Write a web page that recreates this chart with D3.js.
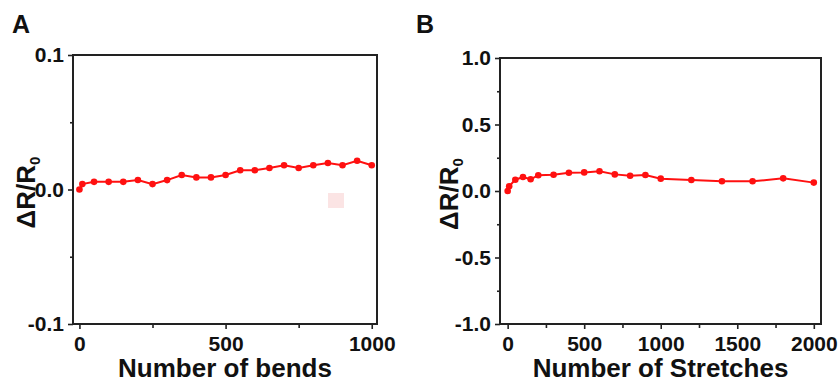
<!DOCTYPE html>
<html>
<head>
<meta charset="utf-8">
<script src="https://cdn.jsdelivr.net/npm/d3@7/dist/d3.min.js"></script>
<style>
  body { margin: 0; background: #fff; }
  svg { display: block; font-family: "Liberation Sans", Arial, sans-serif; font-weight: bold; }
</style>
</head>
<body>
<svg width="839" height="383"></svg>
<script>
// panel A : bending test
var bendsX = [0, 10, 50, 100, 150, 200, 250, 300, 350, 400, 450, 500, 550, 600, 650, 700, 750, 800, 850, 900, 950, 1000]
var bendsY = [0.0, 0.004, 0.0057, 0.0057, 0.0057, 0.0071, 0.004, 0.007, 0.0108, 0.009, 0.009, 0.0108, 0.0143, 0.0143, 0.016, 0.018, 0.016, 0.018, 0.0197, 0.018, 0.0214, 0.018]
var bendsXTicks = [0, 500, 1000]
var bendsXMinor = [250, 750]
var bendsYTicks = [-0.1, 0.0, 0.1]
var bendsYMinor = [-0.05, 0.05]

// panel B : stretching test
var stretchX = [0, 10, 50, 100, 150, 200, 300, 400, 500, 600, 700, 800, 900, 1000, 1200, 1400, 1600, 1800, 2000]
var stretchY = [0.0, 0.035, 0.085, 0.105, 0.088, 0.118, 0.122, 0.137, 0.14, 0.148, 0.125, 0.115, 0.12, 0.093, 0.083, 0.073, 0.073, 0.095, 0.063]
var stretchXTicks = [0, 500, 1000, 1500, 2000]
var stretchXMinor = [250, 750, 1250, 1750]
var stretchYTicks = [-1.0, -0.5, 0.0, 0.5, 1.0]
var stretchYMinor = [-0.75, -0.25, 0.25, 0.75]

var svg = d3.select('svg')

function drawPanel(p) {
    var g = svg.append('g')

    var x = d3.scaleLinear().domain(p.xDomain).range([p.left, p.right])
    var y = d3.scaleLinear().domain(p.yDomain).range([p.bottom, p.top])

    // minor ticks first
    g.append('g')
        .attr('transform', 'translate(0,' + p.bottom + ')')
        .call(d3.axisBottom(x).tickValues(p.xMinor).tickSize(4).tickFormat(''))
    g.append('g')
        .attr('transform', 'translate(' + p.left + ',0)')
        .call(d3.axisLeft(y).tickValues(p.yMinor).tickSize(3).tickFormat(''))

    g.append('g')
        .attr('transform', 'translate(0,' + p.bottom + ')')
        .call(d3.axisBottom(x).tickValues(p.xTicks).tickSize(5).tickPadding(7)
              .tickFormat(function(d){ return d }))
    g.append('g')
        .attr('transform', 'translate(' + p.left + ',0)')
        .call(d3.axisLeft(y).tickValues(p.yTicks).tickSize(5).tickPadding(4)
              .tickFormat(function(d){ return d.toFixed(1) }))

    g.selectAll('.domain').remove()
    g.selectAll('.tick line').attr('stroke', '#222').attr('stroke-width', 1.6)
    g.selectAll('.tick text')
        .attr('fill', '#111')
        .style('font-size', '21px')
        .style('font-family', '"Liberation Sans", Arial, sans-serif')
        .style('font-weight', 'bold')

    // frame
    g.append('rect')
        .attr('x', p.left).attr('y', p.top)
        .attr('width', p.right - p.left).attr('height', p.bottom - p.top)
        .attr('fill', 'none').attr('stroke', '#222').attr('stroke-width', 2)

    var pts = p.xs.map(function(d, i){ return [d, p.ys[i]] })
    var line = d3.line()
        .x(function(d){ return x(d[0]) })
        .y(function(d){ return y(d[1]) })

    g.append('path')
        .datum(pts)
        .attr('d', line)
        .attr('fill', 'none')
        .attr('stroke', '#ff1010')
        .attr('stroke-width', 2)

    g.selectAll('circle')
        .data(pts)
        .enter()
        .append('circle')
        .attr('cx', function(d){ return x(d[0]) })
        .attr('cy', function(d){ return y(d[1]) })
        .attr('r', 3.3)
        .attr('fill', '#ff1010')

    // axis titles
    g.append('text')
        .attr('x', (p.left + p.right) / 2)
        .attr('y', 377)
        .attr('text-anchor', 'middle')
        .style('font-size', '26px')
        .attr('fill', '#111')
        .text(p.xTitle)

    var yt = g.append('text')
        .attr('transform', 'translate(' + p.yTitleX + ',' + ((p.top + p.bottom) / 2 + 3) + ') rotate(-90)')
        .attr('text-anchor', 'middle')
        .style('font-size', '26px')
        .attr('fill', '#111')
    yt.append('tspan').text('\u0394R/R')
    yt.append('tspan').attr('dy', 5).style('font-size', '15px').text('0')

    g.append('text')
        .attr('x', p.labelX).attr('y', 33)
        .style('font-size', '25px')
        .attr('fill', '#111')
        .text(p.label)
}

drawPanel({
    label: 'A', labelX: 12,
    left: 73, right: 377, top: 55, bottom: 324,
    xDomain: [-22, 1018], yDomain: [-0.1, 0.1],
    xTicks: bendsXTicks, xMinor: bendsXMinor,
    yTicks: bendsYTicks, yMinor: bendsYMinor,
    xs: bendsX, ys: bendsY,
    xTitle: 'Number of bends', yTitleX: 35
})

drawPanel({
    label: 'B', labelX: 416,
    left: 500, right: 821, top: 58, bottom: 324,
    xDomain: [-50, 2047], yDomain: [-1.0, 1.0],
    xTicks: stretchXTicks, xMinor: stretchXMinor,
    yTicks: stretchYTicks, yMinor: stretchYMinor,
    xs: stretchX, ys: stretchY,
    xTitle: 'Number of Stretches', yTitleX: 458
})

// faint watermark square left in the source figure
svg.append('rect')
    .attr('x', 328).attr('y', 193).attr('width', 16).attr('height', 15)
    .attr('fill', '#fbe4e4')
</script>
</body>
</html>
